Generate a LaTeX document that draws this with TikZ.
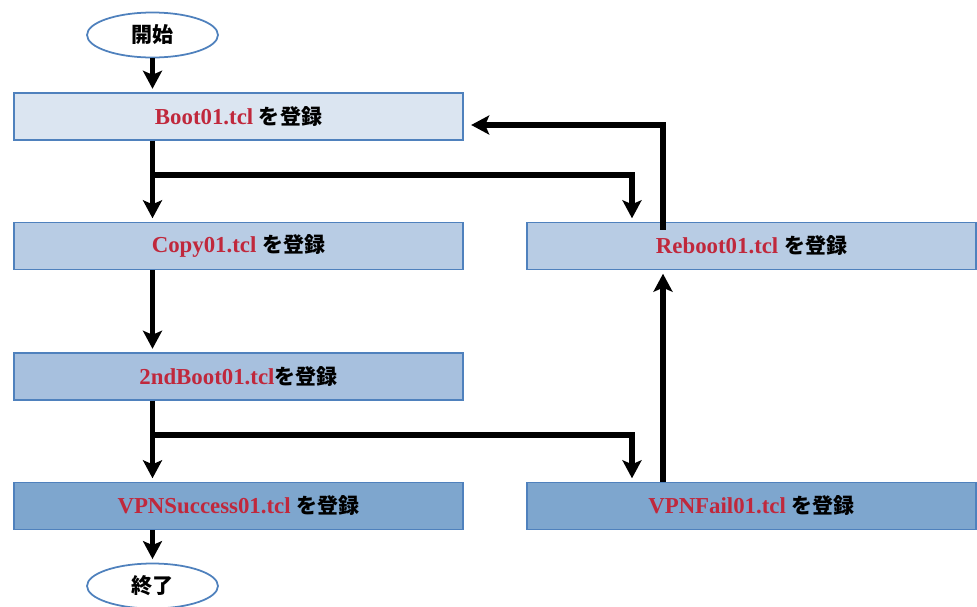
\documentclass[tikz,border=0pt]{standalone}
\usepackage{fontspec}
\setmainfont{Liberation Serif}
\newfontfamily\jp[Scale=0.92]{Noto Sans CJK JP}
\usetikzlibrary{shapes.geometric,arrows.meta}
\definecolor{tclred}{RGB}{192,40,60}
\definecolor{edgeblue}{RGB}{79,129,189}
\definecolor{fillA}{RGB}{219,229,241}
\definecolor{fillB}{RGB}{184,204,228}
\definecolor{fillC}{RGB}{167,192,222}
\definecolor{fillD}{RGB}{126,166,206}
\newcommand{\tcl}[1]{\textcolor{tclred}{#1}}
\newcommand{\reg}{{\jp を登録}}

\begin{document}
\begin{tikzpicture}[x=0.02cm,y=-0.02cm,
	font=\fontsize{13pt}{15pt}\selectfont\bfseries,
	term/.style={ellipse,draw=edgeblue,line width=1pt,fill=white,minimum width=2.62cm,minimum height=0.9cm,inner sep=0pt},
	task/.style={rectangle,draw=edgeblue,line width=0.8pt,minimum width=8.98cm,minimum height=0.94cm,inner sep=0pt},
	arr/.style={line width=3pt,-{Stealth[length=0.36cm,width=0.38cm,inset=0.08cm]},shorten >=2pt}]
	\useasboundingbox (0,0) rectangle (977,606);
	\node[term] (start) at (152.5,35) {\jp 開始};
	\node[task,fill=fillA] (boot) at (238.5,116.5) {\tcl{Boot01.tcl} \reg};
	\node[task,fill=fillB] (copy) at (238.5,246) {\tcl{Copy01.tcl} \reg};
	\node[task,fill=fillC] (snd) at (238.5,376.5) {\tcl{2ndBoot01.tcl}\reg};
	\node[task,fill=fillD] (succ) at (238.5,506) {\tcl{VPNSuccess01.tcl} \reg};
	\node[term] (stop) at (152.5,586) {\jp 終了};
	\node[task,fill=fillB] (reboot) at (751.5,246) {\tcl{Reboot01.tcl} \reg};
	\node[task,fill=fillD] (fail) at (751.5,506) {\tcl{VPNFail01.tcl} \reg};
	\coordinate (j1) at (152.5,175);
	\coordinate (j2) at (152.5,435);
	\draw [arr] (start) -- (start |- boot.north);
	\draw [arr] (boot.south -| start) -- (copy.north -| start);
	\draw [arr] (j1) -| ([shift={(-119.5,0)}]reboot.north);
	\draw [arr] ([shift={(-88.5,8)}]reboot.north) |- ([shift={(4,8.5)}]boot.east);
	\draw [arr] (copy.south -| start) -- (snd.north -| start);
	\draw [arr] (snd.south -| start) -- (succ.north -| start);
	\draw [arr] (j2) -| ([shift={(-119.5,0)}]fail.north);
	\draw [arr] ([shift={(-88.5,0)}]fail.north) -- ([shift={(-88.5,0)}]reboot.south);
	\draw [arr] (succ.south -| start) -- (stop);
\end{tikzpicture}
\end{document}
